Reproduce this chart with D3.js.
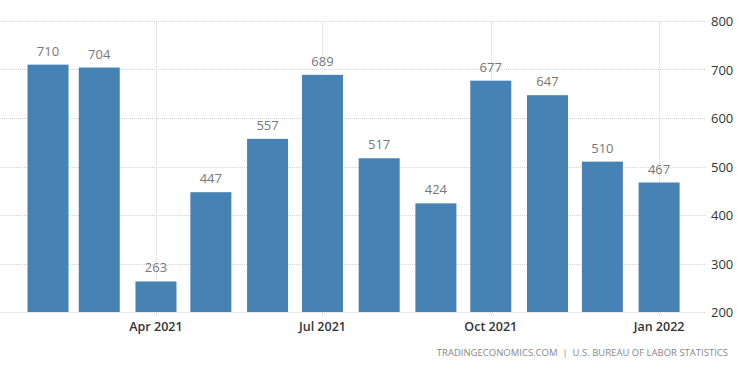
<!DOCTYPE html>
<html>
<head>
<meta charset="utf-8">
<script src="https://cdn.jsdelivr.net/npm/d3@7"></script>
<style>
    body { margin: 0; background: #fff; }
    svg { display: block; font-family: 'Open Sans', sans-serif; }
</style>
</head>
<body>
<svg width="750" height="375"></svg>
<script>
var months = ['2021-02', '2021-03', '2021-04', '2021-05', '2021-06', '2021-07',
              '2021-08', '2021-09', '2021-10', '2021-11', '2021-12', '2022-01'];
var values = [710, 704, 263, 447, 557, 689, 517, 424, 677, 647, 510, 467];
var xTickMonths = ['2021-04', '2021-07', '2021-10', '2022-01'];
var yTicks = [200, 300, 400, 500, 600, 700, 800];
var sourceText = 'TRADINGECONOMICS.COM  |  U.S. BUREAU OF LABOR STATISTICS';

var parseMonth = d3.timeParse('%Y-%m'),
    svg = d3.select('svg'),
    plotLeft = 0,
    plotRight = 705,
    plotTop = 21,
    plotBottom = 312,
    barWidth = 41;

var x = d3.scaleTime()
    .domain([new Date(2021, 0, 5, 18), new Date(2022, 0, 25)])
    .range([plotLeft, 703]);

var y = d3.scaleLinear()
    .domain([200, 800])
    .range([plotBottom, plotTop]);

// horizontal grid
svg.append('g')
    .selectAll('line')
    .data(yTicks)
    .enter().append('line')
    .attr('x1', plotLeft)
    .attr('x2', plotRight)
    .attr('y1', function (d) { return Math.round(y(d)) + 0.5; })
    .attr('y2', function (d) { return Math.round(y(d)) + 0.5; })
    .attr('stroke', '#d4d4d4')
    .attr('stroke-dasharray', '1,1');

// vertical grid at tick months
svg.append('g')
    .selectAll('line')
    .data(xTickMonths)
    .enter().append('line')
    .attr('x1', function (d) { return Math.round(x(parseMonth(d))) + 0.5; })
    .attr('x2', function (d) { return Math.round(x(parseMonth(d))) + 0.5; })
    .attr('y1', plotTop)
    .attr('y2', plotBottom + 5)
    .attr('stroke', '#d4d4d4')
    .attr('stroke-dasharray', '1,1');

// bars
svg.append('g')
    .selectAll('rect')
    .data(values)
    .enter().append('rect')
    .attr('x', function (d, i) { return x(parseMonth(months[i])) - barWidth / 2; })
    .attr('width', barWidth)
    .attr('y', function (d) { return y(d); })
    .attr('height', function (d) { return plotBottom - y(d); })
    .attr('fill', '#4682b4');

// value labels
svg.append('g')
    .selectAll('text')
    .data(values)
    .enter().append('text')
    .attr('x', function (d, i) { return x(parseMonth(months[i])); })
    .attr('y', function (d) { return y(d) - 9; })
    .attr('text-anchor', 'middle')
    .attr('font-size', 13)
    .attr('fill', '#777')
    .text(function (d) { return d; });

// x axis labels
svg.append('g')
    .selectAll('text')
    .data(xTickMonths)
    .enter().append('text')
    .attr('x', function (d) { return x(parseMonth(d)); })
    .attr('y', 331)
    .attr('text-anchor', 'middle')
    .attr('font-size', 12.5)
    .attr('font-weight', 600)
    .attr('fill', '#333')
    .text(function (d) { return d3.timeFormat('%b %Y')(parseMonth(d)); });

// y axis labels, right side
svg.append('g')
    .selectAll('text')
    .data(yTicks)
    .enter().append('text')
    .attr('x', 711)
    .attr('y', function (d) { return y(d) + 5; })
    .attr('font-size', 13)
    .attr('fill', '#333')
    .text(function (d) { return d; });

svg.append('text')
    .attr('x', 728)
    .attr('y', 356)
    .attr('text-anchor', 'end')
    .attr('font-size', 9.5)
    .attr('fill', '#888')
    .style('white-space', 'pre')
    .text(sourceText);
</script>
</body>
</html>
